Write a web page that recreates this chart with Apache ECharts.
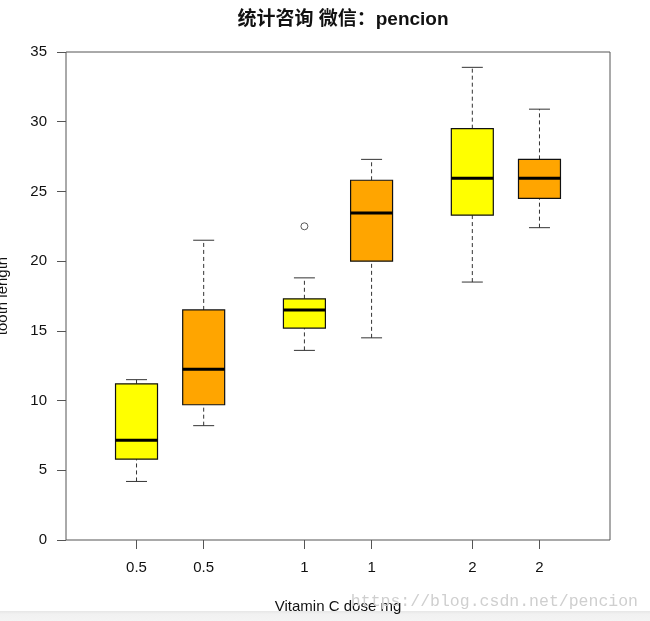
<!DOCTYPE html>
<html>
<head>
<meta charset="utf-8">
<script src="https://cdn.jsdelivr.net/npm/echarts@6/dist/echarts.min.js"></script>
<style>html,body{margin:0;padding:0;background:#fff}#main{width:650px;height:621px}</style>
</head>
<body>
<div id="main"></div>
<script>
// ---- data ----
const doses = ['0.5', '1', '2'];
const vcPositions = [0.8, 1.8, 2.8];   // 1:3 - 0.2
const ojPositions = [1.2, 2.2, 3.2];   // 1:3 + 0.2
// [lower whisker, Q1, median, Q3, upper whisker]
const vcStats = [
  [4.2, 5.8, 7.15, 11.2, 11.5],
  [13.6, 15.2, 16.5, 17.3, 18.8],
  [18.5, 23.3, 25.95, 29.5, 33.9]
];
const ojStats = [
  [8.2, 9.7, 12.25, 16.5, 21.5],
  [14.5, 20.0, 23.45, 25.8, 27.3],
  [22.4, 24.5, 25.95, 27.3, 30.9]
];
const vcOutliers = [[1.8, 22.5]];
const ojOutliers = [];
const tickPositions = [0.8, 1.2, 1.8, 2.2, 2.8, 3.2];
const tickLabels = ['0.5', '0.5', '1', '1', '2', '2'];
const yTicks = [0, 5, 10, 15, 20, 25, 30, 35];

const boxWex = 0.25;
const FONT = '"Liberation Sans", Arial, "Noto Sans CJK SC", sans-serif';

function makeData(pos, stats) {
  return pos.map((p, i) => [p].concat(stats[i]));
}

function renderBox(fill) {
  return function (params, api) {
    const x = api.value(0);
    const lo = api.coord([x, api.value(1)]);
    const q1 = api.coord([x, api.value(2)]);
    const md = api.coord([x, api.value(3)]);
    const q3 = api.coord([x, api.value(4)]);
    const hi = api.coord([x, api.value(5)]);
    const hw = api.size([boxWex / 2, 0])[0];
    const cw = hw / 2;
    const cx = lo[0];
    const dash = { stroke: '#333', lineWidth: 1, lineDash: [4, 3] };
    const solid = { stroke: '#333', lineWidth: 1 };
    return {
      type: 'group',
      children: [
        { type: 'line', shape: { x1: cx, y1: lo[1], x2: cx, y2: q1[1] }, style: dash },
        { type: 'line', shape: { x1: cx, y1: q3[1], x2: cx, y2: hi[1] }, style: dash },
        { type: 'line', shape: { x1: cx - cw, y1: lo[1], x2: cx + cw, y2: lo[1] }, style: solid },
        { type: 'line', shape: { x1: cx - cw, y1: hi[1], x2: cx + cw, y2: hi[1] }, style: solid },
        { type: 'rect', shape: { x: cx - hw, y: q3[1], width: 2 * hw, height: q1[1] - q3[1] },
          style: { fill: fill, stroke: '#111', lineWidth: 1.2 } },
        { type: 'line', shape: { x1: cx - hw, y1: md[1], x2: cx + hw, y2: md[1] },
          style: { stroke: '#000', lineWidth: 3 } }
      ]
    };
  };
}

const chart = echarts.init(document.getElementById('main'), null, { renderer: 'canvas' });
chart.setOption({
  animation: false,
  backgroundColor: '#fff',
  title: {
    text: '统计咨询 微信：pencion',
    left: 338, top: 5, textAlign: 'center',
    textStyle: { fontFamily: FONT, fontWeight: 'bold', fontSize: 19, color: '#111' }
  },
  grid: {
    left: 66, right: 40, top: 52, bottom: 81,
    show: true, borderColor: '#555', borderWidth: 1, backgroundColor: 'transparent'
  },
  xAxis: {
    type: 'value', min: 0.38, max: 3.62,
    splitLine: { show: false },
    axisLine: { show: false },
    axisTick: { show: true, inside: false, length: 9, customValues: tickPositions,
      lineStyle: { color: '#555', width: 1 } },
    axisLabel: {
      customValues: tickPositions,
      margin: 20,
      fontFamily: FONT, fontSize: 15, color: '#111',
      formatter: function (v) {
        const i = tickPositions.findIndex(p => Math.abs(p - v) < 1e-6);
        return i >= 0 ? tickLabels[i] : '';
      }
    }
  },
  yAxis: {
    type: 'value', min: 0, max: 35, interval: 5,
    splitLine: { show: false },
    axisLine: { show: false },
    axisTick: { show: true, inside: false, length: 9, lineStyle: { color: '#555', width: 1 } },
    axisLabel: { margin: 19, fontFamily: FONT, fontSize: 15, color: '#111',
      customValues: yTicks }
  },
  graphic: [
    { type: 'rect', left: 0, top: 611, shape: { width: 650, height: 10 },
      style: { fill: new echarts.graphic.LinearGradient(0, 0, 0, 1, [
        { offset: 0, color: '#e6e6e6' }, { offset: 0.3, color: '#f1f1f1' }, { offset: 1, color: '#f4f4f4' }]) },
      z: 0 },
    { type: 'text', x: 3, y: 296, rotation: Math.PI / 2,
      style: { text: 'tooth length', fontFamily: FONT, fontSize: 15, fill: '#111',
        textAlign: 'center', textVerticalAlign: 'middle' } },
    { type: 'text', x: 338, y: 607,
      style: { text: 'Vitamin C dose mg', fontFamily: FONT, fontSize: 15, fill: '#111',
        textAlign: 'center', textVerticalAlign: 'middle' } },
    { type: 'text', x: 638, y: 602,
      style: { text: 'https://blog.csdn.net/pencion', fontFamily: '"Liberation Mono", "DejaVu Sans Mono", monospace',
        fontSize: 16.5, fill: '#cfcfcf', textAlign: 'right', textVerticalAlign: 'middle' } }
  ],
  series: [
    { type: 'custom', name: 'VC', renderItem: renderBox('#FFFF00'),
      data: makeData(vcPositions, vcStats), encode: { x: 0, y: [1, 2, 3, 4, 5] }, clip: false },
    { type: 'custom', name: 'OJ', renderItem: renderBox('#FFA500'),
      data: makeData(ojPositions, ojStats), encode: { x: 0, y: [1, 2, 3, 4, 5] }, clip: false },
    { type: 'scatter', data: vcOutliers.concat(ojOutliers), symbol: 'circle', symbolSize: 7,
      itemStyle: { color: '#fff', borderColor: '#333', borderWidth: 1 } }
  ]
});
</script>
</body>
</html>
